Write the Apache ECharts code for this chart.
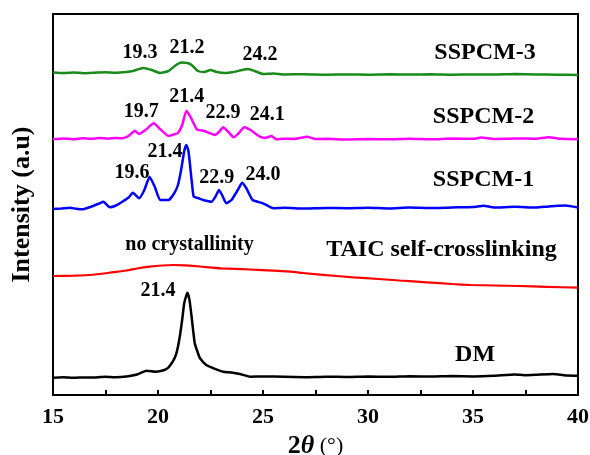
<!DOCTYPE html>
<html>
<head>
<meta charset="utf-8">
<script src="https://cdn.jsdelivr.net/npm/echarts@6/dist/echarts.min.js"></script>
<style>
  html, body { margin: 0; padding: 0; background: #fff; }
  #chart { width: 590px; height: 455px; }
</style>
</head>
<body>
<div id="chart"></div>
<script>
// 2theta positions and (offset) intensities
var dmX = [15,15.5,16,16.5,17,17.5,18,18.5,19,19.45,19.9,20.3,20.5,20.7,20.85,20.95,21.05,21.15,21.25,21.4,21.5,21.6,21.75,21.9,22.0,22.3,22.65,23.1,23.5,23.9,24.4,25,26,27,28,29,30,31,32,33,34,35,36,37,37.5,38,38.8,39.5,40];
var dmY = [17.3,17.8,17.2,17.6,17.5,18.3,17.7,18.5,20.5,24.3,23.3,25,27.7,33.3,40,48.3,60,75,92,102.3,95,78.3,51.7,42,36.7,30,26.7,23.3,22.5,21,18.3,18.6,18.2,17.8,18.3,18,18.5,18.2,18.8,18.4,18.9,18.6,19.2,20.5,19.8,20.2,21,19.5,19.3];

var taicX = [15,16,16.3,17,17.7,18.5,19,19.6,20.2,20.7,21.3,22,23,24.4,25.5,26.3,26.9,28,29.3,30.5,31.5,32.8,34,34.9,36,37.2,38.5,40];
var taicY = [119,119.3,119.5,120.5,122.3,124.5,126.5,128.3,129.5,130,129.6,128.5,126.7,125.5,124.3,123.3,122,119.8,117.7,116,114.5,112.7,111,110,109.5,109,108.2,107.3];

var s1X = [15,15.4,15.8,16.1,16.4,16.7,16.9,17.2,17.4,17.7,18.0,18.3,18.6,18.8,19.1,19.35,19.6,19.85,20.1,20.5,20.75,20.95,21.1,21.25,21.35,21.45,21.6,21.7,21.9,22.15,22.55,22.75,22.9,23.05,23.25,23.5,23.8,24.0,24.2,24.5,25,25.5,26,27,28,29,30,31,32,33,34,35,35.5,36,37,38,38.6,39.4,40];
var s1Y = [186,186.5,187.3,186.3,185.7,187.5,189,191.5,193.3,187.7,189.5,193.3,197.5,202.3,196.7,205,218.3,208,195,195,201,210,225,244,250,244,215,198.3,197,195,193.3,199,205,200,191.7,195,205,212.3,207,195,191.7,186.7,187.2,186.5,187,186.8,187.3,186.6,187.5,186.9,187.6,188,189.3,187.5,188.2,187.4,188.6,189.5,187.5];

var s2X = [15,15.5,16,16.4,16.8,17.2,17.6,18,18.3,18.6,18.9,19.1,19.4,19.8,20.1,20.5,20.75,20.95,21.15,21.35,21.55,21.85,22.2,22.45,22.7,22.9,23.1,23.35,23.6,23.85,24.1,24.4,24.85,25.1,25.4,25.65,26,26.5,27.1,27.5,28,29,30,31,32,33,34,35,35.4,36,37,38,38.6,39.2,40];
var s2Y = [255.7,256.5,255.8,256.8,256.2,257,256.3,257,256.7,259,264.3,261,265,271.7,266,259,260.5,262,270,284.3,278,265.7,264,262,260,263,267.7,263,257.7,262,267.7,265,258.3,257,259,255.7,256.3,256,258.3,256,256.2,255.5,256,255.7,256.3,255.8,256.4,256.2,257.5,256,256.5,256.3,257.7,256.2,255.7];

var s3X = [15,15.5,16,16.5,17,17.5,18,18.5,18.8,19.3,19.7,20.1,20.5,20.8,21.1,21.4,21.6,21.9,22.2,22.5,22.8,23.2,23.6,24.0,24.3,24.6,25,25.5,26,27,28,29,30,31,32,33,34,35,36,37,38,39,40];
var s3Y = [322.5,322,322.5,321.8,322.3,322.8,322.2,323,324,327,325,322,324,329,332.5,332,330,324,323,325,323,322,323,325,326,324,321,321.5,320.5,320.8,320.3,320.6,320.2,320.7,320.4,320.8,320.3,320.6,320.4,320.9,320.5,320.3,320];

// peak labels
var peakText = ['19.3','21.2','24.2','19.7','21.4','22.9','24.1','19.6','21.4','22.9','24.0','no crystallinity','21.4'];
var peakX = [19.14,21.38,24.86,19.2,21.37,23.1,25.2,18.76,20.33,22.8,25.0,21.5,20.0];
var peakY = [342,347,340,283,298,282,280,222,243,217,220,150,104];

// sample names
var nameText = ['SSPCM-3','SSPCM-2','SSPCM-1','TAIC self-crosslinking','DM'];
var nameX = [35.57,35.5,35.5,33.5,35.1];
var nameY = [342,278,215,145,40];

var xTicks = [15,20,25,30,35,40];

function zip(xs, ys) {
	var out = [];
	for (var i = 0; i < xs.length; i++) out.push([xs[i], ys[i]]);
	return out;
}

function labelData(xs, ys, txt) {
	var out = [];
	for (var i = 0; i < xs.length; i++) out.push({ value: [xs[i], ys[i]], name: txt[i] });
	return out;
}

var FONT = '"Liberation Serif", "Times New Roman", serif';

function curve(name, data, color, width) {
	return {
		name: name,
		type: 'line',
		data: data,
		showSymbol: false,
		smooth: 0.15,
		lineStyle: { color: color, width: width },
		z: 3
	};
}

function textSeries(data, size) {
	return {
		type: 'scatter',
		data: data,
		symbolSize: 0,
		silent: true,
		itemStyle: { opacity: 1 },
		label: {
			show: true,
			position: [0, 0],
			align: 'center',
			verticalAlign: 'middle',
			formatter: function (p) { return p.name; },
			color: '#000',
			textBorderWidth: 0,
			fontFamily: FONT,
			fontWeight: 'bold',
			fontSize: size
		},
		z: 5
	};
}

var chart = echarts.init(document.getElementById('chart'));
chart.setOption({
	backgroundColor: '#fff',
	animation: false,
	grid: {
		left: 53, right: 12, top: 14, bottom: 60,
		containLabel: false,
		outerBoundsMode: 'none',
		show: true, borderColor: '#000', borderWidth: 2
	},
	xAxis: {
		type: 'value',
		min: xTicks[0],
		max: xTicks[xTicks.length - 1],
		interval: 5,
		name: '{b|2}{i|θ}{n| (°)}',
		nameLocation: 'middle',
		nameGap: 33,
		nameTextStyle: {
			rich: {
				b: { fontFamily: FONT, fontWeight: 'bold', fontSize: 26, color: '#000' },
				i: { fontFamily: FONT, fontWeight: 'bold', fontStyle: 'italic', fontSize: 26, color: '#000' },
				n: { fontFamily: FONT, fontSize: 22, color: '#000' }
			}
		},
		axisLine: { show: true, lineStyle: { color: '#000', width: 2 } },
		axisTick: { show: true, inside: true, length: 5, lineStyle: { color: '#000', width: 2 } },
		minorTick: { show: true, splitNumber: 2, length: 5, lineStyle: { color: '#000', width: 2 } },
		axisLabel: {
			margin: 11,
			color: '#000',
			fontFamily: FONT,
			fontWeight: 'bold',
			fontSize: 22
		},
		splitLine: { show: false }
	},
	yAxis: {
		type: 'value',
		min: 0,
		max: 381,
		name: 'Intensity (a.u)',
		nameLocation: 'middle',
		nameRotate: 90,
		nameGap: 18,
		nameTextStyle: { fontFamily: FONT, fontWeight: 'bold', fontSize: 26, color: '#000' },
		axisLine: { show: true, lineStyle: { color: '#000', width: 2 } },
		axisTick: { show: false },
		axisLabel: { show: false },
		splitLine: { show: false }
	},
	series: [
		curve('DM', zip(dmX, dmY), '#000000', 2.5),
		curve('TAIC self-crosslinking', zip(taicX, taicY), '#ff0000', 2.2),
		curve('SSPCM-1', zip(s1X, s1Y), '#0000ff', 2.5),
		curve('SSPCM-2', zip(s2X, s2Y), '#ff00ff', 2.5),
		curve('SSPCM-3', zip(s3X, s3Y), '#1a8a1a', 2.5),
		textSeries(labelData(peakX, peakY, peakText), 20),
		textSeries(labelData(nameX, nameY, nameText), 24)
	]
});
</script>
</body>
</html>
